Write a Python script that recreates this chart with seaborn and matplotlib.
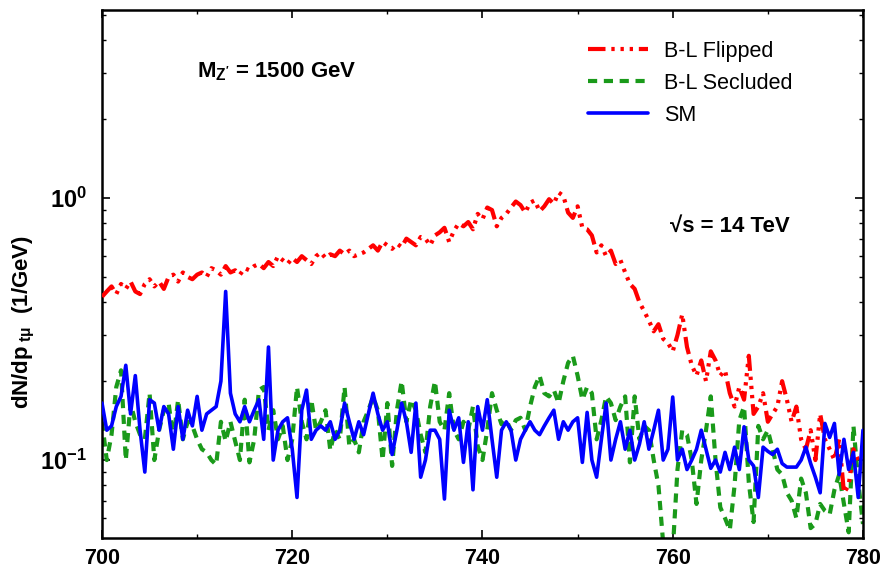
import numpy as np
import pandas as pd
import matplotlib
matplotlib.use("Agg")
import matplotlib.pyplot as plt
from matplotlib.ticker import MultipleLocator, LogLocator, NullFormatter
import seaborn as sns

# transverse momentum grid (GeV), 0.5 GeV bins
p_t = np.arange(700, 780.01, 0.5)

# B-L Flipped
flipped = [0.42, 0.44, 0.46, 0.43, 0.47, 0.45, 0.48, 0.44, 0.43, 0.47,
           0.49, 0.46, 0.48, 0.45, 0.50, 0.51, 0.48, 0.52, 0.50, 0.49,
           0.51, 0.52, 0.50, 0.54, 0.53, 0.51, 0.55, 0.52, 0.53, 0.51,
           0.54, 0.53, 0.55, 0.56, 0.54, 0.57, 0.55, 0.60, 0.58, 0.56,
           0.59, 0.57, 0.60, 0.58, 0.56, 0.60, 0.62, 0.59, 0.61, 0.60,
           0.63, 0.61, 0.63, 0.60, 0.61, 0.62, 0.64, 0.66, 0.63, 0.68,
           0.66, 0.64, 0.67, 0.65, 0.70, 0.68, 0.66, 0.71, 0.70, 0.66,
           0.72, 0.74, 0.77, 0.68, 0.75, 0.80, 0.78, 0.81, 0.76, 0.87,
           0.83, 0.92, 0.90, 0.78, 0.84, 0.87, 0.92, 0.97, 0.94, 0.88,
           0.96, 0.98, 0.89, 0.93, 0.99, 0.95, 1.05, 1.02, 0.88, 0.84,
           0.93, 0.77, 0.76, 0.72, 0.62, 0.66, 0.60, 0.63, 0.56, 0.58,
           0.52, 0.47, 0.45, 0.40, 0.37, 0.34, 0.31, 0.33, 0.29, 0.28,
           0.26, 0.30, 0.36, 0.27, 0.23, 0.21, 0.24, 0.20, 0.26, 0.24,
           0.21, 0.22, 0.18, 0.16, 0.19, 0.17, 0.25, 0.15, 0.16, 0.18,
           0.14, 0.15, 0.16, 0.20, 0.17, 0.14, 0.16, 0.12, 0.11, 0.13,
           0.10, 0.15, 0.12, 0.11, 0.10, 0.12, 0.075, 0.08, 0.11, 0.10,
           0.10]

# B-L Secluded
secluded = [0.14, 0.10, 0.125, 0.19, 0.22, 0.10, 0.165, 0.14, 0.125, 0.12,
            0.18, 0.10, 0.13, 0.155, 0.165, 0.12, 0.17, 0.12, 0.14, 0.135,
            0.12, 0.11, 0.107, 0.10, 0.096, 0.14, 0.118, 0.14, 0.118, 0.10,
            0.17, 0.098, 0.12, 0.185, 0.19, 0.13, 0.155, 0.12, 0.135, 0.10,
            0.12, 0.19, 0.14, 0.12, 0.17, 0.13, 0.14, 0.155, 0.109, 0.13,
            0.12, 0.19, 0.113, 0.12, 0.107, 0.14, 0.155, 0.174, 0.155, 0.10,
            0.165, 0.095, 0.155, 0.20, 0.14, 0.17, 0.155, 0.125, 0.107, 0.16,
            0.20, 0.14, 0.13, 0.18, 0.13, 0.12, 0.14, 0.13, 0.16, 0.113,
            0.10, 0.13, 0.18, 0.155, 0.137, 0.142, 0.13, 0.142, 0.145, 0.13,
            0.16, 0.19, 0.21, 0.18, 0.175, 0.185, 0.165, 0.20, 0.235, 0.25,
            0.21, 0.17, 0.19, 0.18, 0.12, 0.142, 0.175, 0.165, 0.142, 0.16,
            0.175, 0.098, 0.175, 0.12, 0.135, 0.13, 0.10, 0.08, 0.048, 0.04,
            0.045, 0.092, 0.13, 0.125, 0.10, 0.068, 0.10, 0.13, 0.175, 0.10,
            0.066, 0.06, 0.054, 0.08, 0.142, 0.16, 0.082, 0.058, 0.135, 0.12,
            0.13, 0.11, 0.092, 0.088, 0.075, 0.07, 0.06, 0.085, 0.075, 0.055,
            0.057, 0.068, 0.064, 0.062, 0.077, 0.088, 0.068, 0.053, 0.135, 0.083,
            0.057]

# SM
sm = [0.165, 0.13, 0.135, 0.16, 0.175, 0.23, 0.15, 0.21, 0.13, 0.09,
      0.17, 0.165, 0.13, 0.16, 0.15, 0.11, 0.16, 0.12, 0.155, 0.135,
      0.175, 0.13, 0.15, 0.155, 0.16, 0.20, 0.44, 0.18, 0.15, 0.14,
      0.16, 0.14, 0.155, 0.17, 0.12, 0.27, 0.10, 0.13, 0.14, 0.145,
      0.11, 0.072, 0.155, 0.185, 0.12, 0.13, 0.135, 0.13, 0.14, 0.12,
      0.13, 0.165, 0.14, 0.12, 0.14, 0.125, 0.15, 0.18, 0.15, 0.13,
      0.14, 0.105, 0.13, 0.165, 0.14, 0.107, 0.165, 0.086, 0.10, 0.13,
      0.13, 0.12, 0.071, 0.155, 0.13, 0.145, 0.098, 0.14, 0.077, 0.16,
      0.13, 0.17, 0.12, 0.086, 0.13, 0.14, 0.13, 0.10, 0.12, 0.13,
      0.14, 0.13, 0.125, 0.135, 0.145, 0.155, 0.12, 0.14, 0.13, 0.14,
      0.145, 0.098, 0.152, 0.10, 0.086, 0.12, 0.165, 0.10, 0.12, 0.14,
      0.11, 0.13, 0.10, 0.115, 0.14, 0.11, 0.13, 0.155, 0.10, 0.11,
      0.174, 0.10, 0.11, 0.092, 0.10, 0.11, 0.13, 0.11, 0.093, 0.10,
      0.09, 0.107, 0.092, 0.112, 0.092, 0.134, 0.10, 0.095, 0.072, 0.112,
      0.108, 0.105, 0.11, 0.097, 0.094, 0.094, 0.094, 0.10, 0.112, 0.097,
      0.086, 0.075, 0.138, 0.122, 0.138, 0.088, 0.12, 0.092, 0.107, 0.072,
      0.13]

df = pd.DataFrame({"pt": p_t, "flipped": flipped, "secluded": secluded, "sm": sm})

sns.set_style("ticks", {"axes.edgecolor": "black", "xtick.color": "black",
                        "ytick.color": "black", "text.color": "black",
                        "axes.labelcolor": "black"})
plt.rcParams['font.family'] = ['Liberation Sans', 'DejaVu Sans']
plt.rcParams['mathtext.fontset'] = 'custom'
plt.rcParams['mathtext.rm'] = 'Liberation Sans'
plt.rcParams['mathtext.it'] = 'Liberation Sans:italic'
plt.rcParams['mathtext.bf'] = 'Liberation Sans:bold'

fig = plt.figure(figsize=(8.84, 5.75), dpi=100)
ax = fig.add_axes([0.1154, 0.0643, 0.8608, 0.9183])

sns.lineplot(data=df, x="pt", y="secluded", ax=ax, color="#1a9a1a", lw=3.0,
             linestyle=(0, (2.2, 1.6)), zorder=2)
sns.lineplot(data=df, x="pt", y="flipped", ax=ax, color="#ff0000", lw=3.0,
             linestyle=(0, (4.2, 1.4, 0.8, 1.4, 0.8, 1.4, 0.8, 1.4)), zorder=3)
sns.lineplot(data=df, x="pt", y="sm", ax=ax, color="#0000ff", lw=2.6, zorder=4)

ax.set_yscale("log")
ax.set_xlim(700, 780)
ax.set_ylim(0.0504, 5.22)

lines = ax.get_lines()
ax.legend([lines[1], lines[0], lines[2]], ["B-L Flipped", "B-L Secluded", "SM"],
          loc="upper left", bbox_to_anchor=(588 / 884, 1 - 41 / 575),
          bbox_transform=fig.transFigure, frameon=False, fontsize=15.5,
          handlelength=2.8, handletextpad=0.75, labelspacing=0.5,
          borderpad=0, borderaxespad=0)

ax.xaxis.set_major_locator(MultipleLocator(20))
ax.xaxis.set_minor_locator(MultipleLocator(10))
ax.set_yticks([0.1, 1])
ax.set_yticklabels([r"$\mathbf{10^{-1}}$", r"$\mathbf{10^{0}}$"])
ax.yaxis.set_minor_locator(LogLocator(base=10, subs=np.arange(2, 10)))
ax.yaxis.set_minor_formatter(NullFormatter())
for lab in ax.get_xticklabels():
    lab.set_fontweight("bold")
ax.tick_params(which="both", direction="in", top=True, right=True, colors="black")
ax.tick_params(axis="x", labelsize=15.5, pad=7)
ax.tick_params(axis="y", labelsize=17, pad=11)
ax.tick_params(which="major", length=6, width=1.2)
ax.tick_params(which="minor", length=3, width=1.0)
for s in ax.spines.values():
    s.set_linewidth(1.8)
    s.set_color("black")

ax.set_xlabel("")
ax.set_ylabel(r"$\mathbf{dN/dp_{\ t\mu}}$  (1/GeV)", fontsize=16, fontweight="bold",
              color="black")
ax.yaxis.set_label_coords(-0.086, 0.41)

fig.text(197 / 884, 1 - 72 / 575, r"$\mathbf{M_{Z'}}$ = 1500 GeV", fontsize=16,
         fontweight="bold", va="center", ha="left", color="black")
fig.text(670 / 884, 1 - 226 / 575, "\u221as = 14 TeV", fontsize=16,
         fontweight="bold", va="center", ha="left", color="black")

fig.savefig("out.png", dpi=100)
